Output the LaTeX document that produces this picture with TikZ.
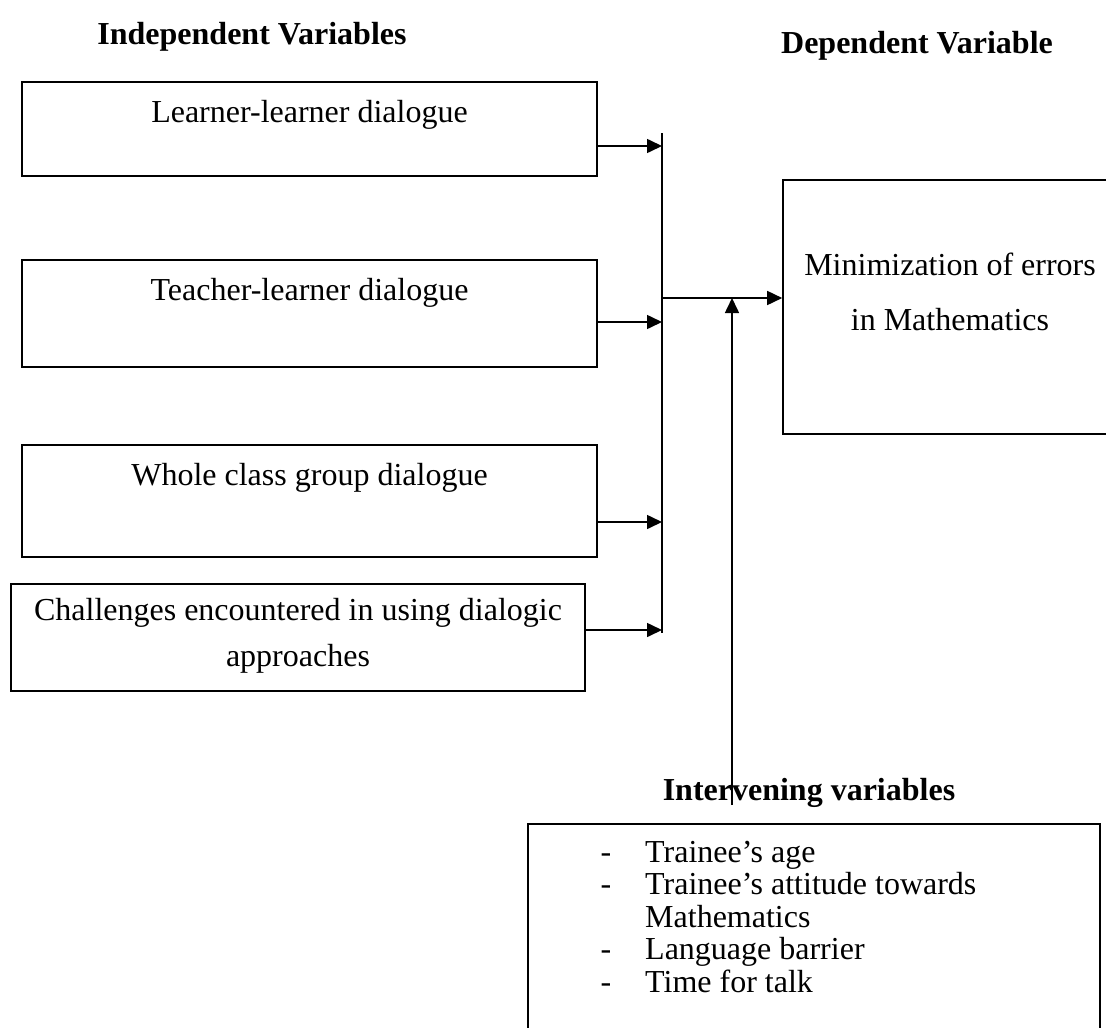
\documentclass[tikz,border=0pt]{standalone}
\usepackage{fontspec}
\setmainfont{Liberation Serif}
\usetikzlibrary{arrows.meta}

\begin{document}
\begin{tikzpicture}[x=1pt,y=-1pt,
  box/.style={draw,line width=1.6pt,rectangle,inner sep=0pt},
  lbl/.style={font=\fontsize{32}{38}\selectfont,inner sep=0pt,anchor=base},
  head/.style={font=\fontsize{32}{38}\selectfont\bfseries,inner sep=0pt,anchor=base},
  arr/.style={line width=1.6pt,-{Triangle[length=15pt,width=14pt]}},
  bus/.style={line width=1.4pt}]
			%%%%% START %%%%%
			\path[use as bounding box,clip] (0,0) rectangle (1106,1028);

			\node[head] (indep) at (252,44) {Independent Variables};
			\node[head] (dep) at (917,53) {Dependent Variable};

			\node[box,minimum width=575pt,minimum height=94pt] (learner) at (309.5,129) {};
			\node[lbl] (learnertxt) at (learner.north) [yshift=-41pt] {Learner-learner dialogue};

			\node[box,minimum width=575pt,minimum height=107pt] (teacher) at (309.5,313.5) {};
			\node[lbl] (teachertxt) at (teacher.north) [yshift=-41pt] {Teacher-learner dialogue};

			\node[box,minimum width=575pt,minimum height=112pt] (whole) at (309.5,501) {};
			\node[lbl] (wholetxt) at (whole.north) [yshift=-41pt] {Whole class group dialogue};

			\node[box,minimum width=574pt,minimum height=107pt] (chall) at (298,637.5) {};
			\node[lbl,align=center,font=\fontsize{32}{46}\selectfont] (challtxt) at (298,666)
				{Challenges encountered in using dialogic\\approaches};

			\node[box,minimum width=360pt,minimum height=254pt] (minim) at (963,307) {};
			\node[lbl,align=center,font=\fontsize{32}{55}\selectfont] (minimtxt) at (950,330)
				{Minimization of errors\\in Mathematics};

			\node[head] (interv) at (809,800) {Intervening variables};
			\node[box,minimum width=572pt,minimum height=250pt] (intbox) at (814,949) {};

			% items of the lower box
			\foreach \y/\t [count=\i] in {862/Trainee’s age,894.5/Trainee’s attitude towards,959.5/Language barrier,992/Time for talk}{
				\node[lbl] (dash\i) at (606,\y) {-};
				\node[lbl,anchor=base west] (item\i) at (645,\y) {\t};
			}
			\node[lbl,anchor=base west] (itemmath) at (645,927) {Mathematics};

			% the joining line and arrows
			\coordinate (bustop) at (662,133);
			\coordinate (busbot) at (662,633);
			\draw[bus] (bustop) -- (busbot);

			\coordinate (in1) at (662,146);
			\coordinate (in2) at (662,322);
			\coordinate (in3) at (662,522);
			\coordinate (in4) at (662,630);
			\draw[arr] (learner.east |- in1) -- (in1);
			\draw[arr] (teacher.east |- in2) -- (in2);
			\draw[arr] (whole.east |- in3) -- (in3);
			\draw[arr] (chall.east |- in4) -- (in4);

			\coordinate (join) at (662,298);
			\draw[arr] (join) -- (minim.west |- join);

			\coordinate (up) at (732,805);
			\draw[arr] (up) -- (up |- join);
			%%%%% END %%%%%
\end{tikzpicture}
\end{document}
